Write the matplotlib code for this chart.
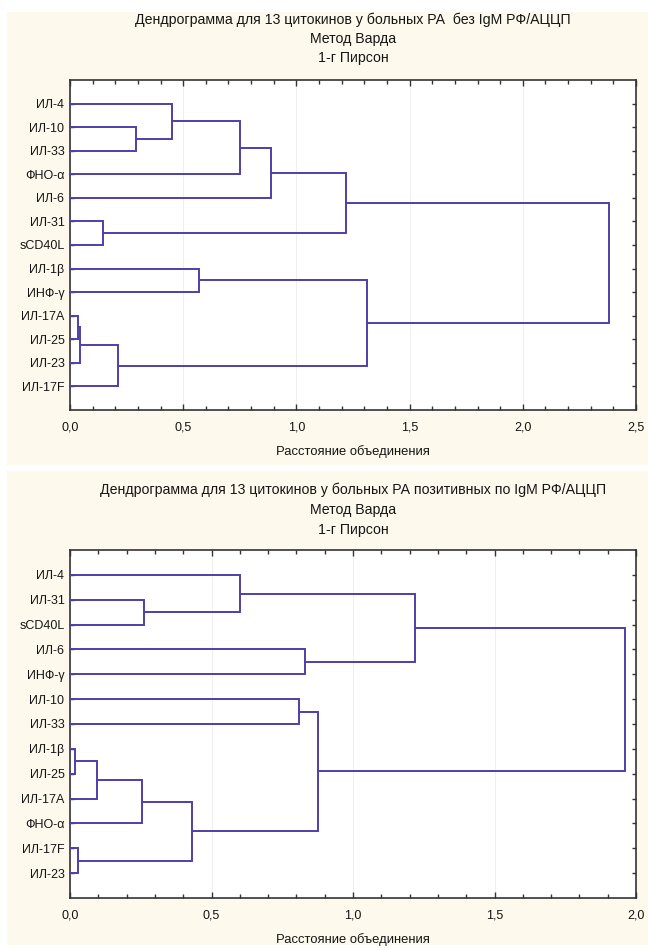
import matplotlib
matplotlib.use("Agg")
import matplotlib.pyplot as plt
from matplotlib.patches import Rectangle
from matplotlib.ticker import MultipleLocator, FuncFormatter

plt.rcParams['font.family'] = ['Liberation Sans', 'DejaVu Sans']

# ---------------- data ----------------
top_title = ["Дендрограмма для 13 цитокинов у больных РА  без IgM РФ/АЦЦП",
             "Метод Варда", "1-г Пирсон"]
top_labels = ["ИЛ-4", "ИЛ-10", "ИЛ-33", "ФНО-α", "ИЛ-6", "ИЛ-31", "sCD40L",
              "ИЛ-1β", "ИНФ-γ", "ИЛ-17A", "ИЛ-25", "ИЛ-23", "ИЛ-17F"]
# merges: cluster ids 0..12 are leaves, 13+ are merges in order
top_left = [9, 13, 1, 5, 14, 0, 7, 18, 20, 21, 19, 22]
top_right = [10, 11, 2, 6, 12, 15, 8, 3, 4, 16, 17, 23]
top_height = [0.035, 0.045, 0.29, 0.145, 0.21, 0.45, 0.57, 0.75, 0.89, 1.22, 1.31, 2.38]
top_xmax = 2.5

bot_title = ["Дендрограмма для 13 цитокинов у больных РА позитивных по IgM РФ/АЦЦП",
             "Метод Варда", "1-г Пирсон"]
bot_labels = ["ИЛ-4", "ИЛ-31", "sCD40L", "ИЛ-6", "ИНФ-γ", "ИЛ-10", "ИЛ-33",
              "ИЛ-1β", "ИЛ-25", "ИЛ-17A", "ФНО-α", "ИЛ-17F", "ИЛ-23"]
bot_left = [7, 11, 13, 1, 15, 17, 0, 5, 3, 20, 19, 23]
bot_right = [8, 12, 9, 2, 10, 14, 16, 6, 4, 18, 21, 22]
bot_height = [0.018, 0.028, 0.095, 0.26, 0.255, 0.43, 0.60, 0.81, 0.83, 0.875, 1.22, 1.96]
bot_xmax = 2.0

xlabel = "Расстояние объединения"

# ---------------- style ----------------
W, H = 648, 948
LINE = '#4f3fa8'
CREAM = '#fdf9ec'
TXT = '#151515'

fig = plt.figure(figsize=(W / 100, H / 100), dpi=100)
fig.patch.set_facecolor('white')


def fx(px):
    return px / W


def fy(py):
    return 1 - py / H


# cream panels
for (x0, y0, x1, y1) in [(7, 12, 648, 465), (7, 471, 648, 945)]:
    fig.patches.append(Rectangle((fx(x0), fy(y1)), fx(x1 - x0), (y1 - y0) / H,
                                 transform=fig.transFigure, facecolor=CREAM,
                                 edgecolor='none', zorder=-5))


def draw(ax, labels, left, right, height, xmax):
    n = len(labels)
    ypos = {i: i + 1.0 for i in range(n)}
    xpos = {i: 0.0 for i in range(n)}
    for k, (a, b, h) in enumerate(zip(left, right, height)):
        cid = n + k
        ya, yb = ypos[a], ypos[b]
        ax.plot([xpos[a], h, h, xpos[b]], [ya, ya, yb, yb], color=LINE,
                lw=1.4, solid_joinstyle='miter', zorder=3, clip_on=False)
        ypos[cid] = (ya + yb) / 2
        xpos[cid] = h
    ax.set_xlim(0, xmax)
    ax.set_ylim(n + 1, 0)
    ax.set_yticks(range(1, n + 1))
    ax.set_yticklabels(labels, fontsize=9, color=TXT)
    ax.xaxis.set_major_locator(MultipleLocator(0.5))
    ax.xaxis.set_minor_locator(MultipleLocator(0.1))
    ax.xaxis.set_major_formatter(FuncFormatter(lambda v, p: f"{v:.1f}".replace('.', ',')))
    ax.tick_params(axis='x', which='both', direction='in', top=True, bottom=True,
                   labelsize=9, labelcolor=TXT, color='#333333', pad=8)
    ax.tick_params(axis='x', which='major', length=4, width=1)
    ax.tick_params(axis='x', which='minor', length=3, width=1)
    ax.tick_params(axis='y', which='both', direction='in', left=True, right=True,
                   length=3, width=1, color='#333333', pad=4)
    ax.grid(axis='x', which='major', color='#eeeeee', lw=0.6, zorder=0)
    ax.set_axisbelow(True)
    for s in ax.spines.values():
        s.set_color('#333333')
        s.set_linewidth(1.2)
    ax.set_facecolor('white')
    ax.set_zorder(5)


# top axes: px left 70, right 636, top 80, bottom 410
ax1 = fig.add_axes([fx(70), fy(410), fx(566), 330 / H])
draw(ax1, top_labels, top_left, top_right, top_height, top_xmax)
ax2 = fig.add_axes([fx(70), fy(898), fx(566), 348 / H])
draw(ax2, bot_labels, bot_left, bot_right, bot_height, bot_xmax)

cx = fx(353)
for txt, py in zip(top_title, [20, 39, 58]):
    fig.text(cx, fy(py), txt, ha='center', va='center', fontsize=10.2, color=TXT, zorder=6)
for txt, py in zip(bot_title, [490, 510, 530]):
    fig.text(cx, fy(py), txt, ha='center', va='center', fontsize=10.2, color=TXT, zorder=6)
fig.text(cx, fy(452), xlabel, ha='center', va='center', fontsize=9.4, color=TXT, zorder=6)
fig.text(cx, fy(940), xlabel, ha='center', va='center', fontsize=9.4, color=TXT, zorder=6)

fig.savefig('out.png', dpi=100, facecolor='white')
